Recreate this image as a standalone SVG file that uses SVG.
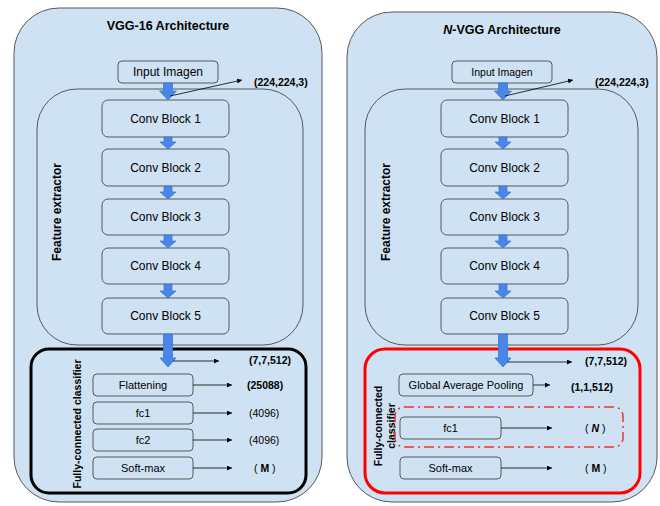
<svg xmlns="http://www.w3.org/2000/svg" width="660" height="506" viewBox="0 0 660 506">
<style>
text{font-family:"Liberation Sans",Arial,sans-serif;fill:#000}
.outer{fill:#cfe2f3;stroke:#595959;stroke-width:1}
.fe{fill:#cfe2f3;stroke:#595959;stroke-width:1}
.box{fill:#cfe2f3;stroke:#595959;stroke-width:1}
.t12{font-size:12px;text-anchor:middle}
.t11{font-size:11px;text-anchor:middle}
.title{font-size:12.5px;font-weight:bold;text-anchor:middle}
.b{font-weight:bold}
.lbl{font-size:10.5px}
.blk{fill:#4a86e8;stroke:#3c78d8;stroke-width:0.8}
.ln{stroke:#000;stroke-width:0.8;fill:none;marker-end:url(#ah)}
</style>
<defs>
<marker id="ah" viewBox="0 0 6 6" refX="6" refY="3" markerWidth="5" markerHeight="5" markerUnits="userSpaceOnUse" orient="auto">
<path d="M0,0 L6,3 L0,6 z" fill="#000"/>
</marker>
</defs>

<g id="vgg16-panel">
<rect class="outer" x="14" y="8" width="308" height="494" rx="45"/>
<text class="title" x="168" y="30">VGG-16 Architecture</text>
</g>
<g id="nvgg-panel">
<rect class="outer" x="347" y="12" width="310" height="490" rx="45"/>
<text class="title" x="502" y="34"><tspan font-style="italic">N</tspan>-VGG Architecture</text>
</g>

<g id="fe-left">
<rect class="fe" x="37" y="89" width="266" height="256" rx="40"/>
<text class="b" font-size="12" text-anchor="middle" transform="translate(61,212) rotate(-90)">Feature extractor</text>
</g>
<g id="fe-right">
<rect class="fe" x="365" y="89" width="273" height="256" rx="40"/>
<text class="b" font-size="12" text-anchor="middle" transform="translate(390,212) rotate(-90)">Feature extractor</text>
</g>

<g id="fc-left">
<rect x="31" y="349" width="275" height="144" rx="18" fill="none" stroke="#000" stroke-width="3"/>
<text class="b" font-size="10.5" text-anchor="middle" transform="translate(81,424) rotate(-90)">Fully-connected classifier</text>
</g>
<g id="fc-right">
<rect x="365" y="349" width="275" height="144" rx="20" fill="none" stroke="#ff0000" stroke-width="3"/>
<text class="b" font-size="10.5" text-anchor="middle" transform="translate(382,426) rotate(-90)">Fully-connected</text>
<text class="b" font-size="10.5" text-anchor="middle" transform="translate(395,426) rotate(-90)">classifier</text>
<rect x="395" y="407" width="228" height="40" rx="9" fill="none" stroke="#ee3333" stroke-width="1.5" stroke-dasharray="10 4 2 4"/>
</g>

<g id="input-left"><rect class="box" x="118" y="61" width="100" height="22" rx="4"/><text class="t12" x="168" y="76">Input Imagen</text></g>
<g id="conv1-left"><rect class="box" x="102" y="100" width="127" height="37" rx="6"/><text class="t12" x="165.5" y="123">Conv Block 1</text></g>
<g id="conv2-left"><rect class="box" x="102" y="149" width="127" height="37" rx="6"/><text class="t12" x="165.5" y="172">Conv Block 2</text></g>
<g id="conv3-left"><rect class="box" x="102" y="199" width="127" height="36" rx="6"/><text class="t12" x="165.5" y="221">Conv Block 3</text></g>
<g id="conv4-left"><rect class="box" x="102" y="248" width="127" height="36" rx="6"/><text class="t12" x="165.5" y="270">Conv Block 4</text></g>
<g id="conv5-left"><rect class="box" x="102" y="298" width="127" height="36" rx="6"/><text class="t12" x="165.5" y="320">Conv Block 5</text></g>
<g id="flatten-left"><rect class="box" x="93" y="374" width="100" height="22" rx="4"/><text class="t11" x="143" y="389">Flattening</text></g>
<g id="fc1-left"><rect class="box" x="93" y="402" width="100" height="22" rx="4"/><text class="t11" x="143" y="417">fc1</text></g>
<g id="fc2-left"><rect class="box" x="93" y="429" width="100" height="22" rx="4"/><text class="t11" x="143" y="444">fc2</text></g>
<g id="softmax-left"><rect class="box" x="93" y="457" width="100" height="22" rx="4"/><text class="t11" x="143" y="472">Soft-max</text></g>

<g id="input-right"><rect class="box" x="452" y="61" width="100" height="22" rx="4"/><text font-size="10.5" text-anchor="middle" x="502" y="76">Input Imagen</text></g>
<g id="conv1-right"><rect class="box" x="441" y="100" width="127" height="37" rx="6"/><text class="t12" x="504.5" y="123">Conv Block 1</text></g>
<g id="conv2-right"><rect class="box" x="441" y="149" width="127" height="37" rx="6"/><text class="t12" x="504.5" y="172">Conv Block 2</text></g>
<g id="conv3-right"><rect class="box" x="441" y="199" width="127" height="36" rx="6"/><text class="t12" x="504.5" y="221">Conv Block 3</text></g>
<g id="conv4-right"><rect class="box" x="441" y="248" width="127" height="36" rx="6"/><text class="t12" x="504.5" y="270">Conv Block 4</text></g>
<g id="conv5-right"><rect class="box" x="441" y="298" width="127" height="36" rx="6"/><text class="t12" x="504.5" y="320">Conv Block 5</text></g>
<g id="gap-right"><rect class="box" x="399" y="374" width="134" height="22" rx="4"/><text class="t11" x="466" y="389">Global Average Pooling</text></g>
<g id="fc1-right"><rect class="box" x="400" y="417" width="101" height="22" rx="4"/><text class="t11" x="450.5" y="432">fc1</text></g>
<g id="softmax-right"><rect class="box" x="400" y="457" width="101" height="22" rx="4"/><text class="t11" x="450.5" y="472">Soft-max</text></g>

<g id="connectors">
<path class="blk" d="M163.5,83 h9 v8 h4 l-8.5,9 l-8.5,-9 h4 z"/>
<path class="blk" d="M164,137 h8 v5 h4 l-8,7 l-8,-7 h4 z"/>
<path class="blk" d="M164,186 h8 v6 h4 l-8,7 l-8,-7 h4 z"/>
<path class="blk" d="M164,235 h8 v6 h4 l-8,7 l-8,-7 h4 z"/>
<path class="blk" d="M164,284 h8 v7 h4 l-8,7 l-8,-7 h4 z"/>
<path class="blk" d="M163.5,334 h9 v24 h3.5 l-8,9 l-8,-9 h3.5 z"/>

<path class="blk" d="M498.5,83 h9 v8 h4 l-8.5,9 l-8.5,-9 h4 z"/>
<path class="blk" d="M499,137 h8 v5 h4 l-8,7 l-8,-7 h4 z"/>
<path class="blk" d="M499,186 h8 v6 h4 l-8,7 l-8,-7 h4 z"/>
<path class="blk" d="M499,235 h8 v6 h4 l-8,7 l-8,-7 h4 z"/>
<path class="blk" d="M499,284 h8 v7 h4 l-8,7 l-8,-7 h4 z"/>
<path class="blk" d="M498.5,334 h9 v24 h3.5 l-8,9 l-8,-9 h3.5 z"/>

<line class="ln" x1="170" y1="96" x2="242" y2="80"/>
<line class="ln" x1="505" y1="96" x2="573" y2="80"/>
<line class="ln" x1="173" y1="361" x2="219" y2="361"/>
<line class="ln" x1="193" y1="385" x2="232" y2="385"/>
<line class="ln" x1="193" y1="413" x2="232" y2="413"/>
<line class="ln" x1="193" y1="440" x2="232" y2="440"/>
<line class="ln" x1="193" y1="468" x2="232" y2="468"/>

<line class="ln" x1="507" y1="362" x2="572" y2="362"/>
<line class="ln" x1="533" y1="385" x2="550" y2="385"/>
<line class="ln" x1="501" y1="428" x2="552" y2="428"/>
<line class="ln" x1="501" y1="468" x2="552" y2="468"/>
</g>

<g id="labels">
<text class="lbl b" x="254" y="86">(224,224,3)</text>
<text class="lbl b" x="595" y="86">(224,224,3)</text>
<text class="lbl b" x="249" y="364">(7,7,512)</text>
<text class="lbl b" x="247" y="389">(25088)</text>
<text class="lbl" x="249" y="417">(4096)</text>
<text class="lbl" x="249" y="444">(4096)</text>
<text class="lbl" x="254" y="472">( <tspan font-weight="bold">M</tspan> )</text>
<text class="lbl b" x="585" y="365">(7,7,512)</text>
<text class="lbl b" x="571" y="391">(1,1,512)</text>
<text class="lbl" x="585" y="432">( <tspan font-weight="bold" font-style="italic">N</tspan> )</text>
<text class="lbl" x="585" y="472">( <tspan font-weight="bold">M</tspan> )</text>
</g>
</svg>
